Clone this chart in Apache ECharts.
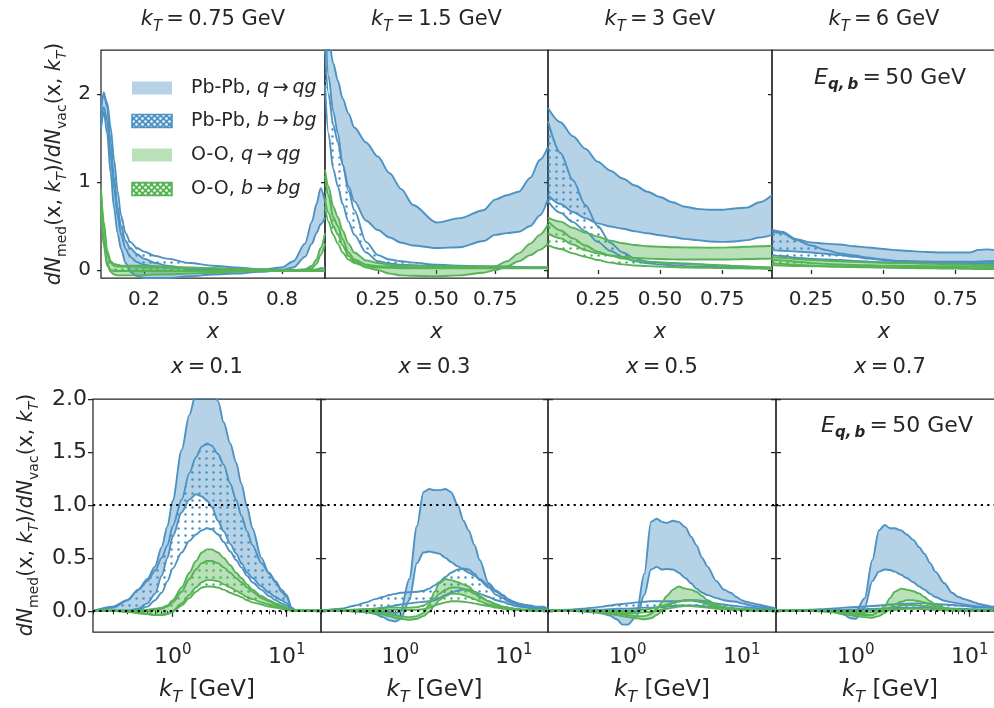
<!DOCTYPE html>
<html><head><meta charset="utf-8">
<script src="https://cdn.jsdelivr.net/npm/echarts@6/dist/echarts.min.js"></script>
<style>html,body{margin:0;padding:0;background:#fff}#c{width:994px;height:708px}</style>
</head><body><div id="c"></div>
<script>
// ---------------- DATA ----------------
const kTtitles = ['0.75', '1.5', '3', '6'];
const xTitles = ['0.1', '0.3', '0.5', '0.7'];
const energyText = '50 GeV';
const refLevels = [0, 1];
const topXRanges = [[0.013, 0.987], [0.025, 0.975], [0.05, 0.95], [0.115, 0.89]];
const topXTicks1 = [0.2, 0.5, 0.8];
const topXTicks = [0.25, 0.5, 0.75];
const topYTicks = [0, 1, 2];
const botYTicks = [0, 0.5, 1.0, 1.5, 2.0];
const logMajor = [1, 10];
const logMinor = [0.2, 0.3, 0.4, 0.5, 0.6, 0.7, 0.8, 0.9, 2, 3, 4, 5, 6, 7, 8, 9, 20];

// top row, kT = 0.75 GeV
const t1_x = [0.013, 0.025, 0.04, 0.055, 0.07, 0.085, 0.1, 0.12, 0.14, 0.17, 0.2, 0.25, 0.3, 0.4, 0.5, 0.6, 0.7, 0.8, 0.85, 0.9, 0.93, 0.95, 0.968, 0.987];
const t1_Pq_hi = [1.80, 2.02, 1.85, 1.45, 1.05, 0.72, 0.50, 0.33, 0.25, 0.18, 0.13, 0.08, 0.05, 0.01, -0.01, -0.01, 0.00, 0.03, 0.10, 0.30, 0.55, 0.75, 0.93, 0.78];
const t1_Pq_lo = [1.60, 1.80, 1.55, 1.10, 0.70, 0.42, 0.24, 0.08, -0.02, -0.07, -0.09, -0.09, -0.09, -0.07, -0.05, -0.04, -0.02, 0.00, 0.03, 0.15, 0.30, 0.42, 0.52, 0.60];
const t1_Pb_hi = [1.95, 1.98, 1.90, 1.62, 1.25, 0.90, 0.62, 0.42, 0.32, 0.25, 0.21, 0.16, 0.13, 0.08, 0.05, 0.03, 0.01, 0.00, 0.00, 0.00, 0.00, 0.00, 0.00, 0.00];
const t1_Pb_lo = [1.70, 1.85, 1.70, 1.30, 0.92, 0.62, 0.40, 0.24, 0.15, 0.09, 0.06, 0.04, 0.03, 0.02, 0.01, 0.00, 0.00, -0.01, -0.01, -0.01, -0.01, -0.01, -0.01, -0.01];
const t1_Oq_hi = [0.92, 0.55, 0.22, 0.10, 0.07, 0.06, 0.05, 0.05, 0.05, 0.05, 0.05, 0.04, 0.04, 0.03, 0.02, 0.01, 0.00, 0.00, 0.00, 0.01, 0.05, 0.12, 0.25, 0.42];
const t1_Oq_lo = [0.75, 0.35, 0.08, -0.02, -0.05, -0.06, -0.06, -0.06, -0.06, -0.06, -0.06, -0.05, -0.05, -0.04, -0.03, -0.02, -0.01, 0.00, 0.00, 0.00, 0.02, 0.07, 0.17, 0.30];
const t1_Ob_hi = [0.88, 0.50, 0.18, 0.08, 0.05, 0.04, 0.04, 0.04, 0.04, 0.04, 0.03, 0.03, 0.03, 0.02, 0.02, 0.01, 0.01, 0.00, 0.00, 0.00, 0.00, 0.01, 0.02, 0.03];
const t1_Ob_lo = [0.65, 0.28, 0.05, 0.00, -0.01, -0.01, -0.01, -0.01, -0.01, -0.01, -0.01, -0.01, -0.01, -0.01, -0.01, -0.01, -0.01, -0.01, -0.01, -0.01, -0.01, -0.01, -0.01, -0.01];

// top row, kT = 1.5 GeV
const t2_x = [0.025, 0.04, 0.06, 0.08, 0.1, 0.125, 0.15, 0.2, 0.25, 0.3, 0.35, 0.4, 0.5, 0.6, 0.7, 0.75, 0.8, 0.85, 0.9, 0.94, 0.975];
const t2_Pq_hi = [3.2, 2.65, 2.35, 2.15, 1.95, 1.78, 1.62, 1.45, 1.29, 1.10, 0.92, 0.74, 0.54, 0.59, 0.68, 0.80, 0.85, 0.89, 1.05, 1.25, 1.40];
const t2_Pq_lo = [2.9, 2.2, 1.8, 1.55, 1.2, 0.95, 0.78, 0.56, 0.455, 0.37, 0.31, 0.28, 0.25, 0.26, 0.33, 0.40, 0.42, 0.435, 0.50, 0.62, 0.81];
const t2_Pb_hi = [2.5, 2.0, 1.65, 1.45, 1.2, 0.9, 0.68, 0.32, 0.17, 0.12, 0.10, 0.085, 0.06, 0.05, 0.045, 0.04, 0.04, 0.035, 0.03, 0.03, 0.03];
const t2_Pb_lo = [2.1, 1.55, 1.15, 0.95, 0.75, 0.55, 0.40, 0.20, 0.10, 0.075, 0.06, 0.055, 0.045, 0.04, 0.035, 0.03, 0.03, 0.03, 0.03, 0.03, 0.03];
const t2_Oq_hi = [1.14, 0.95, 0.72, 0.60, 0.45, 0.30, 0.20, 0.11, 0.08, 0.06, 0.05, 0.05, 0.045, 0.04, 0.04, 0.045, 0.10, 0.19, 0.30, 0.40, 0.52];
const t2_Oq_lo = [0.80, 0.65, 0.50, 0.40, 0.28, 0.16, 0.10, 0.03, 0.00, -0.04, -0.06, -0.065, -0.07, -0.06, -0.03, 0.00, 0.04, 0.10, 0.17, 0.23, 0.30];
const t2_Ob_hi = [1.07, 0.85, 0.60, 0.50, 0.35, 0.20, 0.12, 0.06, 0.045, 0.04, 0.035, 0.03, 0.03, 0.03, 0.03, 0.03, 0.03, 0.03, 0.03, 0.03, 0.03];
const t2_Ob_lo = [0.72, 0.55, 0.40, 0.30, 0.20, 0.12, 0.08, 0.04, 0.03, 0.025, 0.02, 0.02, 0.02, 0.02, 0.02, 0.02, 0.02, 0.02, 0.02, 0.02, 0.02];

// top row, kT = 3 GeV
const t3_x = [0.05, 0.1, 0.15, 0.2, 0.25, 0.3, 0.35, 0.4, 0.45, 0.5, 0.55, 0.6, 0.65, 0.7, 0.75, 0.8, 0.85, 0.9, 0.95];
const t3_Pq_hi = [1.84, 1.68, 1.52, 1.38, 1.23, 1.13, 1.04, 0.96, 0.89, 0.83, 0.77, 0.72, 0.695, 0.685, 0.685, 0.70, 0.71, 0.77, 0.85];
const t3_Pq_lo = [0.85, 0.75, 0.66, 0.59, 0.53, 0.495, 0.47, 0.44, 0.418, 0.395, 0.375, 0.355, 0.34, 0.325, 0.32, 0.325, 0.34, 0.37, 0.40];
const t3_Pb_hi = [1.69, 1.33, 1.02, 0.74, 0.50, 0.31, 0.20, 0.13, 0.095, 0.088, 0.082, 0.075, 0.068, 0.06, 0.052, 0.045, 0.037, 0.03, 0.02];
const t3_Pb_lo = [0.78, 0.65, 0.545, 0.44, 0.32, 0.22, 0.15, 0.10, 0.077, 0.065, 0.055, 0.045, 0.04, 0.037, 0.033, 0.03, 0.027, 0.023, 0.02];
const t3_Oq_hi = [0.595, 0.55, 0.48, 0.425, 0.38, 0.335, 0.305, 0.285, 0.27, 0.265, 0.26, 0.258, 0.256, 0.254, 0.255, 0.26, 0.265, 0.27, 0.277];
const t3_Oq_lo = [0.417, 0.36, 0.29, 0.225, 0.19, 0.165, 0.15, 0.138, 0.13, 0.125, 0.122, 0.12, 0.12, 0.12, 0.12, 0.122, 0.125, 0.128, 0.13];
const t3_Ob_hi = [0.557, 0.45, 0.36, 0.28, 0.21, 0.165, 0.13, 0.11, 0.095, 0.085, 0.077, 0.068, 0.063, 0.058, 0.052, 0.046, 0.04, 0.035, 0.03];
const t3_Ob_lo = [0.284, 0.24, 0.19, 0.15, 0.114, 0.085, 0.065, 0.052, 0.045, 0.04, 0.035, 0.03, 0.027, 0.025, 0.022, 0.02, 0.018, 0.016, 0.015];

// top row, kT = 6 GeV
const t4_x = [0.115, 0.15, 0.2, 0.25, 0.3, 0.35, 0.4, 0.45, 0.5, 0.55, 0.6, 0.65, 0.7, 0.75, 0.8, 0.83, 0.86, 0.89];
const t4_Pq_hi = [0.46, 0.435, 0.35, 0.315, 0.30, 0.29, 0.27, 0.256, 0.24, 0.225, 0.215, 0.205, 0.20, 0.20, 0.20, 0.23, 0.235, 0.227];
const t4_Pq_lo = [0.227, 0.22, 0.21, 0.20, 0.185, 0.17, 0.15, 0.13, 0.115, 0.10, 0.095, 0.09, 0.087, 0.087, 0.09, 0.095, 0.10, 0.106];
const t4_Pb_hi = [0.435, 0.42, 0.34, 0.28, 0.23, 0.19, 0.165, 0.14, 0.12, 0.105, 0.10, 0.098, 0.095, 0.095, 0.095, 0.095, 0.095, 0.095];
const t4_Pb_lo = [0.17, 0.16, 0.14, 0.128, 0.12, 0.114, 0.105, 0.095, 0.09, 0.087, 0.085, 0.082, 0.08, 0.078, 0.077, 0.076, 0.076, 0.076];
const t4_Oq_hi = [0.15, 0.14, 0.125, 0.115, 0.106, 0.10, 0.093, 0.087, 0.082, 0.078, 0.076, 0.072, 0.068, 0.065, 0.062, 0.06, 0.058, 0.057];
const t4_Oq_lo = [0.076, 0.07, 0.06, 0.052, 0.045, 0.042, 0.038, 0.035, 0.032, 0.03, 0.028, 0.026, 0.025, 0.024, 0.022, 0.021, 0.02, 0.02];
const t4_Ob_hi = [0.12, 0.11, 0.095, 0.082, 0.07, 0.064, 0.058, 0.054, 0.05, 0.048, 0.046, 0.045, 0.044, 0.043, 0.042, 0.041, 0.04, 0.04];
const t4_Ob_lo = [0.057, 0.052, 0.047, 0.043, 0.04, 0.037, 0.034, 0.031, 0.028, 0.025, 0.022, 0.02, 0.018, 0.016, 0.014, 0.012, 0.011, 0.01];

// bottom row, common kT grid [GeV]
const kT = [0.2, 0.3, 0.4, 0.5, 0.6, 0.7, 0.8, 0.9, 1.0, 1.2, 1.4, 1.6, 1.8, 2.0, 2.2, 2.5, 2.8, 3.2, 3.6, 4.0, 4.5, 5.0, 6.0, 7.0, 8.0, 9.0, 10, 11, 12, 14, 16, 18, 20];

// x = 0.1
const b1_Pq_hi = [0, 0.03, 0.1, 0.2, 0.3, 0.42, 0.6, 0.8, 1.04, 1.52, 1.85, 2.05, 2.13, 2.15, 2.12, 1.98, 1.78, 1.58, 1.4, 1.2, 0.98, 0.78, 0.5, 0.35, 0.27, 0.18, 0.13, 0.03, 0, 0, 0, 0, 0];
const b1_Pq_lo = [0, 0, 0, 0.02, 0.07, 0.16, 0.33, 0.5, 0.7, 0.93, 1.05, 1.1, 1.08, 1.04, 0.98, 0.85, 0.75, 0.63, 0.54, 0.45, 0.36, 0.31, 0.23, 0.17, 0.13, 0.1, 0.07, 0.03, 0, 0, 0, 0, 0];
const b1_Pb_hi = [0, 0.04, 0.1, 0.2, 0.28, 0.38, 0.5, 0.62, 0.8, 1.05, 1.3, 1.45, 1.55, 1.58, 1.56, 1.48, 1.38, 1.2, 1.05, 0.9, 0.75, 0.62, 0.45, 0.36, 0.28, 0.2, 0.15, 0.03, 0, 0, 0, 0, 0];
const b1_Pb_lo = [0, 0, 0, 0.01, 0.04, 0.1, 0.17, 0.28, 0.4, 0.55, 0.66, 0.72, 0.76, 0.78, 0.77, 0.72, 0.65, 0.56, 0.48, 0.41, 0.33, 0.27, 0.2, 0.14, 0.1, 0.07, 0.05, 0.02, 0, 0, 0, 0, 0];
const b1_Oq_hi = [0, 0, 0, 0, 0.01, 0.02, 0.03, 0.05, 0.1, 0.22, 0.36, 0.47, 0.55, 0.58, 0.58, 0.55, 0.5, 0.43, 0.36, 0.31, 0.25, 0.2, 0.14, 0.1, 0.07, 0.05, 0.03, 0.01, 0, 0, 0, 0, 0];
const b1_Oq_lo = [0, 0, -0.01, -0.02, -0.03, -0.04, -0.04, -0.03, 0, 0.07, 0.15, 0.22, 0.27, 0.29, 0.29, 0.28, 0.25, 0.22, 0.19, 0.16, 0.13, 0.11, 0.08, 0.06, 0.04, 0.03, 0.02, 0.01, 0, 0, 0, 0, 0];
const b1_Ob_hi = [0, 0, 0, 0, 0, 0.01, 0.02, 0.04, 0.08, 0.18, 0.3, 0.39, 0.45, 0.47, 0.47, 0.45, 0.41, 0.36, 0.31, 0.27, 0.22, 0.18, 0.12, 0.09, 0.06, 0.04, 0.03, 0.01, 0, 0, 0, 0, 0];
const b1_Ob_lo = [0, 0, -0.01, -0.02, -0.03, -0.04, -0.04, -0.03, -0.01, 0.05, 0.12, 0.18, 0.22, 0.23, 0.23, 0.22, 0.2, 0.17, 0.15, 0.13, 0.1, 0.08, 0.06, 0.04, 0.03, 0.02, 0.01, 0, 0, 0, 0, 0, 0];

// x = 0.3
const b2_Pq_hi = [0, 0, -0.005, -0.01, -0.01, -0.01, -0.01, -0.02, -0.01, 0.3, 0.8, 1.12, 1.15, 1.14, 1.14, 1.15, 1.12, 1.0, 0.85, 0.76, 0.62, 0.48, 0.26, 0.19, 0.15, 0.11, 0.085, 0.07, 0.06, 0.05, 0.04, 0.04, 0.02];
const b2_Pq_lo = [0, 0, -0.005, -0.015, -0.03, -0.06, -0.09, -0.1, -0.08, 0.1, 0.45, 0.55, 0.56, 0.55, 0.54, 0.5, 0.46, 0.42, 0.39, 0.36, 0.33, 0.3, 0.24, 0.18, 0.14, 0.1, 0.08, 0.065, 0.055, 0.045, 0.035, 0.03, 0.02];
const b2_Pb_hi = [0, 0.02, 0.05, 0.08, 0.11, 0.13, 0.15, 0.16, 0.17, 0.175, 0.18, 0.19, 0.21, 0.24, 0.27, 0.32, 0.36, 0.39, 0.4, 0.39, 0.35, 0.29, 0.22, 0.15, 0.12, 0.085, 0.07, 0.055, 0.045, 0.035, 0.03, 0.025, 0.02];
const b2_Pb_lo = [0, 0.005, 0.01, 0.015, 0.02, 0.03, 0.04, 0.05, 0.06, 0.07, 0.08, 0.085, 0.09, 0.1, 0.12, 0.15, 0.17, 0.19, 0.2, 0.2, 0.18, 0.16, 0.13, 0.1, 0.085, 0.065, 0.05, 0.04, 0.035, 0.025, 0.02, 0.015, 0.013];
const b2_Oq_hi = [0, 0, 0, -0.005, -0.01, -0.02, -0.03, -0.04, -0.05, -0.06, -0.05, -0.02, 0.06, 0.18, 0.26, 0.3, 0.29, 0.27, 0.25, 0.23, 0.18, 0.14, 0.09, 0.06, 0.04, 0.03, 0.02, 0.015, 0.01, 0.01, 0.005, 0, 0];
const b2_Oq_lo = [0, 0, -0.005, -0.01, -0.02, -0.035, -0.05, -0.065, -0.075, -0.085, -0.075, -0.05, -0.01, 0.05, 0.1, 0.14, 0.16, 0.16, 0.15, 0.13, 0.11, 0.09, 0.06, 0.04, 0.03, 0.02, 0.015, 0.01, 0.01, 0.005, 0, 0, 0];
const b2_Ob_hi = [0, 0.005, 0.01, 0.015, 0.02, 0.025, 0.03, 0.03, 0.03, 0.03, 0.035, 0.05, 0.08, 0.12, 0.16, 0.2, 0.22, 0.22, 0.21, 0.19, 0.16, 0.13, 0.09, 0.06, 0.04, 0.03, 0.02, 0.015, 0.01, 0.005, 0, 0, 0];
const b2_Ob_lo = [0, 0, 0, 0, 0.005, 0.01, 0.01, 0.01, 0.01, 0.01, 0.01, 0.015, 0.03, 0.05, 0.065, 0.08, 0.09, 0.09, 0.085, 0.08, 0.07, 0.06, 0.045, 0.03, 0.02, 0.015, 0.01, 0.008, 0.005, 0, 0, 0, 0];

// x = 0.5
const b3_Pq_hi = [0, 0, 0, 0, 0, -0.01, -0.02, -0.02, -0.02, 0, 0.35, 0.84, 0.87, 0.84, 0.83, 0.85, 0.84, 0.79, 0.7, 0.62, 0.5, 0.42, 0.28, 0.2, 0.17, 0.13, 0.1, 0.085, 0.075, 0.06, 0.045, 0.035, 0.02];
const b3_Pq_lo = [0, 0, -0.005, -0.015, -0.025, -0.045, -0.08, -0.13, -0.13, -0.05, 0.15, 0.39, 0.415, 0.39, 0.395, 0.39, 0.36, 0.31, 0.26, 0.21, 0.17, 0.15, 0.12, 0.1, 0.09, 0.085, 0.07, 0.06, 0.05, 0.04, 0.03, 0.025, 0.02];
const b3_Pb_hi = [0, 0.01, 0.02, 0.03, 0.04, 0.05, 0.06, 0.065, 0.07, 0.08, 0.085, 0.09, 0.09, 0.09, 0.09, 0.09, 0.09, 0.095, 0.1, 0.1, 0.095, 0.085, 0.07, 0.06, 0.05, 0.045, 0.04, 0.035, 0.03, 0.025, 0.02, 0.015, 0.01];
const b3_Pb_lo = [0, 0, 0.005, 0.01, 0.01, 0.015, 0.02, 0.02, 0.02, 0.025, 0.03, 0.03, 0.035, 0.035, 0.04, 0.045, 0.05, 0.05, 0.05, 0.05, 0.045, 0.04, 0.035, 0.03, 0.025, 0.02, 0.02, 0.015, 0.015, 0.01, 0.01, 0.005, 0.005];
const b3_Oq_hi = [0, 0, 0, -0.005, -0.01, -0.015, -0.02, -0.03, -0.04, -0.05, -0.05, -0.03, 0.02, 0.08, 0.14, 0.2, 0.23, 0.21, 0.2, 0.18, 0.14, 0.1, 0.06, 0.035, 0.025, 0.02, 0.015, 0.01, 0.01, 0.005, 0, 0, 0];
const b3_Oq_lo = [0, 0, -0.005, -0.01, -0.02, -0.03, -0.04, -0.05, -0.06, -0.07, -0.08, -0.07, -0.04, 0, 0.04, 0.07, 0.09, 0.1, 0.1, 0.09, 0.08, 0.06, 0.04, 0.03, 0.02, 0.015, 0.01, 0.01, 0.005, 0, 0, 0, 0];
const b3_Ob_hi = [0, 0, 0, 0, 0, 0, 0, 0, 0, 0.005, 0.01, 0.02, 0.03, 0.045, 0.06, 0.08, 0.09, 0.1, 0.1, 0.095, 0.08, 0.07, 0.05, 0.035, 0.025, 0.02, 0.015, 0.01, 0.01, 0.005, 0, 0, 0];
const b3_Ob_lo = [0, 0, 0, 0, -0.005, -0.01, -0.015, -0.02, -0.02, -0.02, -0.015, -0.01, 0, 0.01, 0.02, 0.03, 0.04, 0.045, 0.045, 0.04, 0.035, 0.03, 0.02, 0.015, 0.01, 0.01, 0.005, 0.005, 0, 0, 0, 0, 0];

// x = 0.7
const b4_Pq_hi = [0, 0, 0, 0, 0, -0.005, -0.01, -0.01, -0.01, 0.12, 0.48, 0.76, 0.81, 0.78, 0.78, 0.76, 0.72, 0.67, 0.6, 0.54, 0.45, 0.37, 0.26, 0.17, 0.13, 0.11, 0.095, 0.08, 0.065, 0.05, 0.04, 0.035, 0.03];
const b4_Pq_lo = [0, 0, 0, -0.005, -0.01, -0.02, -0.04, -0.07, -0.075, 0.03, 0.28, 0.37, 0.39, 0.385, 0.37, 0.34, 0.31, 0.27, 0.23, 0.2, 0.16, 0.13, 0.095, 0.08, 0.07, 0.06, 0.05, 0.045, 0.04, 0.035, 0.03, 0.025, 0.022];
const b4_Pb_hi = [0, 0.005, 0.01, 0.015, 0.02, 0.025, 0.03, 0.033, 0.036, 0.04, 0.045, 0.05, 0.055, 0.06, 0.062, 0.065, 0.068, 0.07, 0.07, 0.07, 0.068, 0.065, 0.06, 0.055, 0.05, 0.045, 0.04, 0.035, 0.033, 0.03, 0.028, 0.026, 0.025];
const b4_Pb_lo = [0, 0, 0.002, 0.004, 0.006, 0.008, 0.01, 0.012, 0.014, 0.016, 0.018, 0.02, 0.022, 0.024, 0.026, 0.028, 0.03, 0.03, 0.03, 0.03, 0.028, 0.026, 0.024, 0.022, 0.02, 0.018, 0.016, 0.015, 0.014, 0.012, 0.01, 0.01, 0.01];
const b4_Oq_hi = [0, 0, 0, 0, 0, -0.005, -0.01, -0.02, -0.03, -0.04, -0.04, -0.01, 0.05, 0.12, 0.18, 0.21, 0.2, 0.185, 0.165, 0.13, 0.09, 0.06, 0.03, 0.015, 0.01, 0.005, 0, 0, 0, 0, 0, 0, 0];
const b4_Oq_lo = [0, 0, 0, -0.005, -0.01, -0.02, -0.03, -0.04, -0.05, -0.06, -0.065, -0.05, -0.02, 0.02, 0.06, 0.085, 0.1, 0.1, 0.09, 0.08, 0.06, 0.04, 0.02, 0.01, 0.005, 0, 0, 0, 0, 0, 0, 0, 0];
const b4_Ob_hi = [0, 0, 0, 0, 0, 0, 0, 0, 0, 0, 0.005, 0.01, 0.02, 0.03, 0.04, 0.05, 0.055, 0.055, 0.05, 0.045, 0.04, 0.03, 0.02, 0.015, 0.01, 0.005, 0, 0, 0, 0, 0, 0, 0];
const b4_Ob_lo = [0, 0, 0, 0, -0.005, -0.01, -0.015, -0.02, -0.02, -0.02, -0.015, -0.01, 0, 0.005, 0.01, 0.015, 0.02, 0.02, 0.02, 0.015, 0.01, 0.01, 0.005, 0, 0, 0, 0, 0, 0, 0, 0, 0, 0];

// ---------------- STYLE / LAYOUT ----------------
const FONT = 'DejaVu Sans';
const TXT = '#262626';
const SPINE = '#262626';
const BLUE = '#4c92c3', BLUE_FILL = 'rgba(31,119,180,0.33)';
const GREEN = '#56b356', GREEN_FILL = 'rgba(44,160,44,0.33)';
const TS = '\u2009';

function dotTile(dot, bg, size, r, stagger) {
  const c = document.createElement('canvas'); c.width = size; c.height = size;
  const g = c.getContext('2d');
  if (bg) { g.fillStyle = bg; g.fillRect(0, 0, size, size); }
  g.fillStyle = dot;
  const pts = stagger ? [[size / 4, size / 4], [3 * size / 4, 3 * size / 4]] : [[size / 2, size / 2]];
  pts.forEach(p => { g.beginPath(); g.arc(p[0], p[1], r, 0, Math.PI * 2); g.fill(); });
  return c;
}
const bluePat = { image: dotTile(BLUE, null, 7, 1.25, false), repeat: 'repeat' };
const greenPat = { image: dotTile(GREEN, null, 7, 1.25, false), repeat: 'repeat' };
const blueLegPat = { image: dotTile('#ffffff', BLUE, 6, 1.3, true), repeat: 'repeat' };
const greenLegPat = { image: dotTile('#ffffff', GREEN, 6, 1.3, true), repeat: 'repeat' };

const bandStyles = [
  { line: BLUE, fill: BLUE_FILL, name: 'Pb-Pb, q→qg' },
  { line: BLUE, fill: bluePat, name: 'Pb-Pb, b→bg' },
  { line: GREEN, fill: GREEN_FILL, name: 'O-O, q→qg' },
  { line: GREEN, fill: greenPat, name: 'O-O, b→bg' }
];

const topGrids = [{ left: 101, width: 224 }, { left: 325, width: 223 }, { left: 548, width: 224 }, { left: 772, width: 224 }];
const botGrids = [{ left: 93, width: 228 }, { left: 321, width: 227 }, { left: 548, width: 228 }, { left: 776, width: 228 }];
const TOP_Y = 50, TOP_H = 228, BOT_Y = 399, BOT_H = 233;

const topPanels = [
  { x: t1_x, bands: [[t1_Pq_lo, t1_Pq_hi], [t1_Pb_lo, t1_Pb_hi], [t1_Oq_lo, t1_Oq_hi], [t1_Ob_lo, t1_Ob_hi]] },
  { x: t2_x, bands: [[t2_Pq_lo, t2_Pq_hi], [t2_Pb_lo, t2_Pb_hi], [t2_Oq_lo, t2_Oq_hi], [t2_Ob_lo, t2_Ob_hi]] },
  { x: t3_x, bands: [[t3_Pq_lo, t3_Pq_hi], [t3_Pb_lo, t3_Pb_hi], [t3_Oq_lo, t3_Oq_hi], [t3_Ob_lo, t3_Ob_hi]] },
  { x: t4_x, bands: [[t4_Pq_lo, t4_Pq_hi], [t4_Pb_lo, t4_Pb_hi], [t4_Oq_lo, t4_Oq_hi], [t4_Ob_lo, t4_Ob_hi]] }
];
const botPanels = [
  { x: kT, bands: [[b1_Pq_lo, b1_Pq_hi], [b1_Pb_lo, b1_Pb_hi], [b1_Oq_lo, b1_Oq_hi], [b1_Ob_lo, b1_Ob_hi]] },
  { x: kT, bands: [[b2_Pq_lo, b2_Pq_hi], [b2_Pb_lo, b2_Pb_hi], [b2_Oq_lo, b2_Oq_hi], [b2_Ob_lo, b2_Ob_hi]] },
  { x: kT, bands: [[b3_Pq_lo, b3_Pq_hi], [b3_Pb_lo, b3_Pb_hi], [b3_Oq_lo, b3_Oq_hi], [b3_Ob_lo, b3_Ob_hi]] },
  { x: kT, bands: [[b4_Pq_lo, b4_Pq_hi], [b4_Pb_lo, b4_Pb_hi], [b4_Oq_lo, b4_Oq_hi], [b4_Ob_lo, b4_Ob_hi]] }
];

const grid = [], xAxis = [], yAxis = [], series = [];
const topTick = { color: TXT, fontFamily: FONT, fontSize: 20 };
const botTick = { color: TXT, fontFamily: FONT, fontSize: 22 };

topGrids.forEach((g, i) => {
  grid.push({ left: g.left, top: TOP_Y, width: g.width, height: TOP_H, show: true, borderColor: SPINE, borderWidth: 1.25, backgroundColor: 'transparent', outerBoundsMode: 'none', containLabel: false });
  const ticks = i === 0 ? topXTicks1 : topXTicks;
  xAxis.push({ gridIndex: i, type: 'value', min: topXRanges[i][0], max: topXRanges[i][1],
    axisLine: { show: false }, splitLine: { show: false },
    axisTick: { show: true, length: 4, customValues: ticks, lineStyle: { color: SPINE, width: 1.25 } },
    axisLabel: Object.assign({ show: true, margin: 12, customValues: ticks, formatter: v => i === 0 ? v.toFixed(1) : v.toFixed(2) }, topTick) });
  yAxis.push({ gridIndex: i, type: 'value', min: -0.09, max: 2.5,
    axisLine: { show: false }, splitLine: { show: false },
    axisTick: { show: true, length: 4, customValues: topYTicks, lineStyle: { color: SPINE, width: 1.25 } },
    axisLabel: Object.assign({ show: i === 0, margin: 10, customValues: topYTicks, formatter: v => String(Math.round(v)) }, topTick) });
});
botGrids.forEach((g, i) => {
  grid.push({ left: g.left, top: BOT_Y, width: g.width, height: BOT_H, show: true, borderColor: SPINE, borderWidth: 1.25, backgroundColor: 'transparent', outerBoundsMode: 'none', containLabel: false });
});
botGrids.forEach((g, i) => {
  xAxis.push({ gridIndex: 4 + i, type: 'log', logBase: 10, min: 0.2, max: 20, position: 'bottom',
    axisLine: { show: false }, splitLine: { show: false }, minorTick: { show: false },
    axisTick: { show: true, length: 6, customValues: logMajor, lineStyle: { color: SPINE, width: 1.25 } },
    axisLabel: { show: true, margin: 11, customValues: logMajor,
      formatter: v => '{b|10}{s|' + Math.round(Math.log10(v)) + '}',
      rich: { b: { color: TXT, fontFamily: FONT, fontSize: 22, lineHeight: 28 }, s: { color: TXT, fontFamily: FONT, fontSize: 15, lineHeight: 14, verticalAlign: 'top' } } } });
});
botGrids.forEach((g, i) => {
  xAxis.push({ gridIndex: 4 + i, type: 'log', logBase: 10, min: 0.2, max: 20, position: 'bottom',
    axisLine: { show: false }, splitLine: { show: false }, axisLabel: { show: false },
    axisTick: { show: true, length: 3.5, customValues: logMinor, lineStyle: { color: SPINE, width: 1 } } });
});
botGrids.forEach((g, i) => {
  yAxis.push({ gridIndex: 4 + i, type: 'value', min: -0.2, max: 2.0, position: 'left',
    axisLine: { show: false }, splitLine: { show: false },
    axisTick: { show: true, length: 5, customValues: botYTicks, lineStyle: { color: SPINE, width: 1.25 } },
    axisLabel: Object.assign({ show: i === 0, margin: 6, customValues: botYTicks, formatter: v => v.toFixed(1) }, botTick) });
});
botGrids.forEach((g, i) => {
  yAxis.push({ gridIndex: 4 + i, type: 'value', min: -0.2, max: 2.0, position: 'right',
    axisLine: { show: false }, splitLine: { show: false }, axisLabel: { show: false },
    axisTick: { show: true, length: 5, customValues: botYTicks, lineStyle: { color: SPINE, width: 1.25 } } });
});

function addBand(xs, lo, hi, xi, yi, st) {
  const id = 'band' + series.length;
  const common = { type: 'line', name: st.name, xAxisIndex: xi, yAxisIndex: yi, stack: id, stackStrategy: 'all',
    showSymbol: false, symbol: 'none', smooth: 0.3, smoothMonotone: 'x', silent: true, clip: true,
    encode: { x: 1, y: 0 }, lineStyle: { color: st.line, width: 1.9 }, itemStyle: { color: st.line }, z: 2 };
  series.push(Object.assign({}, common, { data: xs.map((x, k) => [lo[k], x]) }));
  series.push(Object.assign({}, common, { data: xs.map((x, k) => [hi[k] - lo[k], x]), areaStyle: { color: st.fill, opacity: 1 } }));
}
topPanels.forEach((p, i) => p.bands.forEach((b, j) => addBand(p.x, b[0], b[1], i, i, bandStyles[j])));
botPanels.forEach((p, i) => {
  p.bands.forEach((b, j) => addBand(p.x, b[0], b[1], 4 + i, 4 + i, bandStyles[j]));
  series.push({ type: 'line', xAxisIndex: 4 + i, yAxisIndex: 4 + i, data: [], silent: true, z: 5,
    markLine: { silent: true, symbol: ['none', 'none'], label: { show: false }, animation: false,
      lineStyle: { color: '#000', type: [2.2, 4.2], width: 2.2 }, emphasis: { disabled: true },
      data: refLevels.map(v => ({ yAxis: v })) } });
});

// ---------------- TEXT (graphic) ----------------
const R = (fs) => ({
  n: { fontFamily: FONT, fontSize: fs, fill: TXT, lineHeight: fs + 8 },
  i: { fontFamily: FONT, fontSize: fs, fill: TXT, fontStyle: 'italic', lineHeight: fs + 8 },
  sub: { fontFamily: FONT, fontSize: Math.round(fs * 0.7), fill: TXT, fontStyle: 'italic', lineHeight: Math.round(fs * 0.7), verticalAlign: 'bottom' },
  subn: { fontFamily: FONT, fontSize: Math.round(fs * 0.7), fill: TXT, lineHeight: Math.round(fs * 0.7), verticalAlign: 'bottom' },
  subb: { fontFamily: FONT, fontSize: Math.round(fs * 0.7), fill: TXT, fontStyle: 'italic', fontWeight: 'bold', lineHeight: Math.round(fs * 0.7), verticalAlign: 'bottom' }
});
const graphic = [];
function txt(x, y, text, fs, rot) {
  graphic.push({ type: 'text', x, y, rotation: rot || 0, silent: true, z: 100,
    style: { text, rich: R(fs), align: 'center', verticalAlign: 'middle', fontFamily: FONT, fontSize: fs, fill: TXT } });
}
topGrids.forEach((g, i) => {
  const cx = g.left + g.width / 2;
  txt(cx, 20, '{i|k}{sub|T}{n|' + TS + '=' + TS + kTtitles[i] + ' GeV}', 21);
  txt(cx, 333, '{i|x}', 21);
});
botGrids.forEach((g, i) => {
  const cx = g.left + g.width / 2;
  txt(cx, 368, '{i|x}{n|' + TS + '=' + TS + xTitles[i] + '}', 21);
  txt(cx, 690, '{i|k}{sub|T}{n| [GeV]}', 23);
});
const yLab = '{i|dN}{subn|med}{n|(x, }{i|k}{sub|T}{n|)/}{i|dN}{subn|vac}{n|(x, }{i|k}{sub|T}{n|)}';
txt(55, 164, yLab, 20.5, Math.PI / 2);
txt(27, 515, yLab, 20.5, Math.PI / 2);
txt(890, 78, '{i|E}{subb|q,' + TS + 'b}{n|' + TS + '=' + TS + energyText + '}', 22);
txt(897, 426, '{i|E}{subb|q,' + TS + 'b}{n|' + TS + '=' + TS + energyText + '}', 22);

// legend (inside first top panel)
const legRows = [88, 121, 155, 189];
const legFill = [BLUE_FILL, blueLegPat, GREEN_FILL, greenLegPat];
const legStroke = [null, BLUE, null, GREEN];
const AR = TS + '→' + TS;
const legText = ['{n|Pb-Pb, }{i|q}{n|' + AR + '}{i|qg}', '{n|Pb-Pb, }{i|b}{n|' + AR + '}{i|bg}', '{n|O-O, }{i|q}{n|' + AR + '}{i|qg}', '{n|O-O, }{i|b}{n|' + AR + '}{i|bg}'];
legRows.forEach((cy, k) => {
  graphic.push({ type: 'rect', silent: true, z: 100, shape: { x: 132, y: cy - 6.5, width: 40, height: 13 },
    style: { fill: legFill[k], stroke: legStroke[k] || 'transparent', lineWidth: legStroke[k] ? 1.6 : 0 } });
  graphic.push({ type: 'text', x: 191, y: cy, silent: true, z: 100,
    style: { text: legText[k], rich: R(19), align: 'left', verticalAlign: 'middle', fontFamily: FONT, fontSize: 19, fill: TXT } });
});

const chart = echarts.init(document.getElementById('c'), null, { renderer: 'canvas' });
chart.setOption({ animation: false, backgroundColor: '#ffffff', grid, xAxis, yAxis, series, graphic });
</script></body></html>
